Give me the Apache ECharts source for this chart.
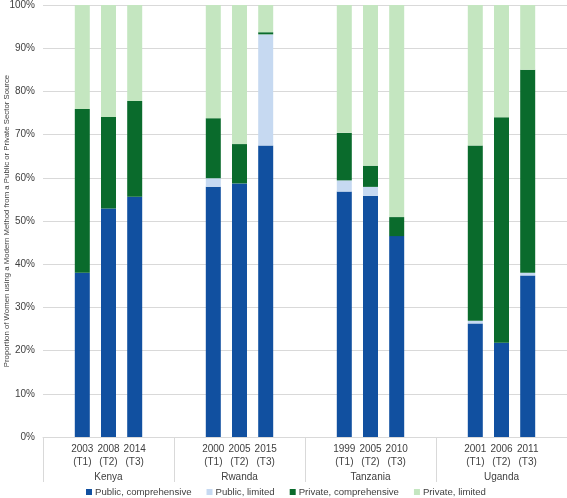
<!DOCTYPE html>
<html>
<head>
<meta charset="utf-8">
<script src="https://cdn.jsdelivr.net/npm/echarts@6/dist/echarts.min.js"></script>
<style>
html,body{margin:0;padding:0;background:#fff;}
#chart{width:567px;height:498px;}
</style>
</head>
<body>
<div id="chart"></div>
<script>
const countries = ['Kenya', 'Rwanda', 'Tanzania', 'Uganda'];
const surveys = [
  ['2003\n(T1)', '2008\n(T2)', '2014\n(T3)'],
  ['2000\n(T1)', '2005\n(T2)', '2015\n(T3)'],
  ['1999\n(T1)', '2005\n(T2)', '2010\n(T3)'],
  ['2001\n(T1)', '2006\n(T2)', '2011\n(T3)']
];
const seriesNames = ['Public, comprehensive', 'Public, limited', 'Private, comprehensive', 'Private, limited'];
const publicComprehensive  = [38.0, 52.9, 55.6, 57.9, 58.7, 67.5, 56.8, 55.8, 46.5, 26.3, 21.8, 37.4];
const publicLimited        = [0.0, 0.0, 0.0, 2.0, 0.0, 25.7, 2.6, 2.1, 0.0, 0.6, 0.0, 0.6];
const privateComprehensive = [37.9, 21.2, 22.2, 13.9, 9.1, 0.5, 11.0, 4.9, 4.4, 40.6, 52.2, 47.0];
const privateLimited       = [24.1, 25.9, 22.2, 26.2, 32.2, 6.3, 29.6, 37.2, 49.1, 32.5, 26.0, 15.0];
const yTicks = [0, 10, 20, 30, 40, 50, 60, 70, 80, 90, 100];
const yTitle = 'Proportion of Women using a Modern Method from a Public or Private Sector Source';

const colors = ['#1150a0', '#c6d9f1', '#0a6b2c', '#c4e6c0'];
const valueArrays = [publicComprehensive, publicLimited, privateComprehensive, privateLimited];

// build slots: blank, 3 surveys, blank per country
const slotIds = [];
const slotLabels = [];
const slotIndex = []; // index into data arrays or -1
let k = 0;
countries.forEach((c, ci) => {
  slotIds.push('b' + ci + 'a'); slotLabels.push(''); slotIndex.push(-1);
  surveys[ci].forEach((s, si) => {
    slotIds.push('s' + ci + '_' + si); slotLabels.push(s); slotIndex.push(k++);
  });
  slotIds.push('b' + ci + 'b'); slotLabels.push(''); slotIndex.push(-1);
});

const series = seriesNames.map((name, i) => ({
  name: name,
  type: 'bar',
  stack: 'total',
  barWidth: 15,
  itemStyle: { color: colors[i] },
  data: slotIndex.map(j => j < 0 ? null : valueArrays[i][j])
}));

const chart = echarts.init(document.getElementById('chart'));
chart.setOption({
  animation: false,
  textStyle: { fontFamily: 'Liberation Sans, Arial, sans-serif' },
  grid: { left: 43, right: 0, top: 5, bottom: 61, containLabel: false, outerBoundsMode: 'none' },
  legend: {
    top: 482,
    left: 81,
    itemWidth: 6,
    itemHeight: 6,
    itemGap: 15,
    icon: 'rect',
    textStyle: { fontSize: 9.6, color: '#404040', padding: [0, 0, 0, -2] },
    data: seriesNames
  },
  xAxis: [
    {
      type: 'category',
      data: slotIds,
      axisLine: { show: true, lineStyle: { color: '#d9d9d9' } },
      axisTick: { show: false },
      axisLabel: {
        interval: 0,
        margin: 6,
        fontSize: 10,
        lineHeight: 13,
        color: '#404040',
        formatter: (v, idx) => slotLabels[idx]
      }
    },
    {
      type: 'category',
      position: 'bottom',
      data: countries,
      axisLine: { show: false },
      axisTick: { show: true, length: 45, interval: 0, lineStyle: { color: '#d9d9d9' } },
      axisLabel: { interval: 0, margin: 35, fontSize: 10, color: '#404040' }
    }
  ],
  yAxis: {
    type: 'value',
    min: 0,
    max: 100,
    interval: 10,
    name: yTitle,
    nameLocation: 'middle',
    nameGap: 32,
    nameMoveOverlap: false,
    nameTextStyle: { fontSize: 7.8, color: '#404040' },
    axisLine: { show: false },
    axisTick: { show: false },
    splitLine: { lineStyle: { color: '#d9d9d9' } },
    axisLabel: {
      margin: 8,
      fontSize: 10,
      color: '#404040',
      formatter: v => yTicks.includes(v) ? v + '%' : ''
    }
  },
  series: series
});
</script>
</body>
</html>
